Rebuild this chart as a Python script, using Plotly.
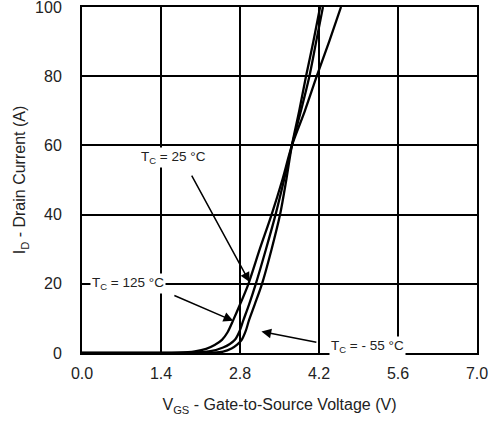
import plotly.graph_objects as go

# Data (V_GS in V, I_D in A)
v_125 = [0.0, 1.4, 1.7, 2.0, 2.2, 2.35, 2.48, 2.58, 2.68, 2.8, 2.95, 3.15, 3.36, 3.55, 3.72, 3.95, 4.16, 4.38, 4.59]
i_125 = [0, 0, 0.1, 0.5, 1.2, 2.3, 3.8, 6.0, 9.5, 14, 20, 30, 40, 50, 60, 70, 80, 90, 100]

v_25 = [0.0, 1.6, 2.0, 2.3, 2.5, 2.62, 2.71, 2.79, 2.86, 2.96, 3.08, 3.26, 3.43, 3.58, 3.72, 3.88, 4.03, 4.15, 4.27]
i_25 = [0, 0, 0.1, 0.6, 1.6, 2.6, 3.8, 6.2, 9.5, 14, 20, 30, 40, 50, 60, 70, 80, 90, 100]

v_m55 = [0.0, 2.0, 2.3, 2.5, 2.65, 2.75, 2.83, 2.9, 2.96, 3.06, 3.19, 3.36, 3.51, 3.62, 3.72, 3.85, 3.97, 4.1, 4.22]
i_m55 = [0, 0, 0.1, 0.4, 1.3, 2.4, 3.8, 6.3, 9.5, 14, 20, 30, 40, 50, 60, 70, 80, 90, 100]

x_ticks = [0.0, 1.4, 2.8, 4.2, 5.6, 7.0]
x_tick_labels = ["0.0", "1.4", "2.8", "4.2", "5.6", "7.0"]
y_ticks = [0, 20, 40, 60, 80, 100]

FONT = "Liberation Sans, Arial, sans-serif"
TXT = "#222"

fig = go.Figure()
for v, i, name in [(v_125, i_125, "125"), (v_25, i_25, "25"), (v_m55, i_m55, "-55")]:
    fig.add_trace(go.Scatter(x=v, y=i, mode="lines", name=name,
                             line=dict(color="black", width=2.3, shape="spline", smoothing=0.8),
                             showlegend=False, hoverinfo="skip"))

labels = [
    ("T<sub>C</sub> = 25 °C", 1.63, 56.4),
    ("T<sub>C</sub> = 125 °C", 0.81, 20.2),
    ("T<sub>C</sub> = - 55 °C", 5.06, 2.0),
]
for txt, x, y in labels:
    fig.add_annotation(x=x, y=y, text=txt, showarrow=False, bgcolor="white",
                       font=dict(family=FONT, size=13.5, color=TXT), borderpad=1)

arrows = [
    # (tail_x, tail_y, head_x, head_y)
    (1.93, 51.7, 2.97, 20.5),
    (1.61, 16.8, 2.68, 9.3),
    (4.18, 3.0, 3.18, 6.2),
]
for tx, ty, hx, hy in arrows:
    fig.add_annotation(x=hx, y=hy, ax=tx, ay=ty, xref="x", yref="y", axref="x", ayref="y",
                       text="", showarrow=True, arrowhead=2, arrowsize=1.3, arrowwidth=1.5,
                       arrowcolor="black", standoff=0, startstandoff=0)

fig.update_xaxes(range=[0, 7], tickvals=x_ticks, ticktext=x_tick_labels,
                 showgrid=True, gridcolor="black", gridwidth=1.5,
                 showline=True, linecolor="black", linewidth=2, mirror=True,
                 zeroline=False, ticks="outside", ticklen=5, tickcolor="rgba(0,0,0,0)",
                 tickfont=dict(family=FONT, size=16, color=TXT), automargin=False,
                 title=dict(text="V<sub>GS</sub> - Gate-to-Source Voltage (V)",
                            font=dict(family=FONT, size=16, color=TXT), standoff=18))
fig.update_yaxes(range=[0, 100], tickvals=y_ticks,
                 showgrid=True, gridcolor="black", gridwidth=1.5,
                 showline=True, linecolor="black", linewidth=2, mirror=True,
                 zeroline=False, ticks="outside", ticklen=15, tickcolor="rgba(0,0,0,0)",
                 tickfont=dict(family=FONT, size=16, color=TXT), automargin=False,
                 ticklabeloverflow="allow",
                 title=dict(text="I<sub>D</sub> - Drain Current (A)",
                            font=dict(family=FONT, size=16, color=TXT), standoff=5))

fig.update_layout(width=491, height=421, margin=dict(l=82, r=14, t=7, b=68),
                  plot_bgcolor="white", paper_bgcolor="white", hovermode=False)

fig.write_html("out.html", config={"displayModeBar": False},
               post_script="document.body.style.margin='0';")
